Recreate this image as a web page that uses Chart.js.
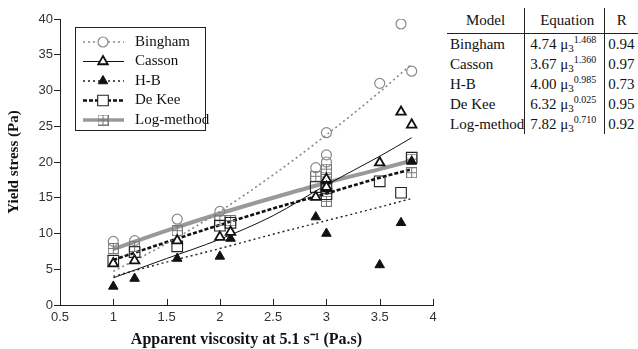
<!DOCTYPE html>
<html lang="en">
<head>
<meta charset="UTF-8" />
<title>Yield stress vs apparent viscosity</title>
<script src="https://cdn.jsdelivr.net/npm/chart.js"></script>
<style>
  body { margin: 0; background: #fff; }
  #wrap { position: relative; width: 638px; height: 349px; }
  #plotBox { position: absolute; left: 0; top: 0; width: 445px; height: 349px; }
  table.models {
    position: absolute; left: 447px; top: 8px;
    border-collapse: collapse;
    font-family: "Liberation Serif", "Times New Roman", serif;
    font-size: 15px; color: #111;
  }
  table.models th { font-weight: normal; height: 25px; border-bottom: 1px solid #222; padding: 0; }
  table.models td { height: 19.5px; padding: 0 0 0 3px; white-space: nowrap; }
  table.models .c1 { width: 74px; }
  table.models .c2 { width: 75px; border-left: 1px solid #222; padding-left: 5px; }
  table.models .c3 { width: 30px; border-left: 1px solid #222; }
  table.models th.c1, table.models th.c2, table.models th.c3 { text-align: center; }
  sup { font-size: 10px; vertical-align: 6px; }
  sub { font-size: 11px; vertical-align: -3px; }
</style>
</head>
<body>
<div id="wrap">
  <div id="plotBox"><canvas id="yieldChart"></canvas></div>
  <table class="models" id="modelTable">
    <tr><th class="c1">Model</th><th class="c2">Equation</th><th class="c3">R</th></tr>
  </table>
</div>

<script>
  // measured points (x = apparent viscosity, y = yield stress)
  const binghamX = [1, 1.2, 1.6, 2, 2.9, 3, 3, 3, 3.5, 3.7, 3.8];
  const binghamY = [8.9, 9.0, 12.0, 13.1, 19.2, 24.1, 21.0, 20.0, 31.0, 39.3, 32.7];
  const cassonX = [1, 1.2, 1.6, 2, 2.1, 2.9, 3, 3, 3.5, 3.7, 3.8];
  const cassonY = [5.8, 6.2, 9.0, 9.5, 10.2, 15.1, 17.6, 16.5, 19.9, 27.0, 25.2];
  const hbX = [1, 1.2, 1.6, 2, 2.1, 2.9, 3, 3, 3, 3.5, 3.7, 3.8];
  const hbY = [2.6, 3.7, 6.5, 6.8, 9.3, 12.3, 10.0, 16.2, 17.3, 5.6, 11.5, 20.1];
  const deKeeX = [1, 1.2, 1.6, 2, 2.1, 2.9, 3, 3, 3.5, 3.7, 3.8];
  const deKeeY = [6.2, 7.4, 8.2, 11.1, 11.5, 16.5, 15.5, 16.3, 17.3, 15.7, 20.6];
  const logX = [1, 1.2, 1.6, 2, 2.1, 2.9, 3, 3, 3, 3.8, 3.8];
  const logY = [7.9, 8.2, 10.4, 11.8, 11.8, 18.0, 19.0, 17.9, 14.5, 18.5, 20.4];

  // fitted curves
  const fitX = [1, 1.5, 2, 2.5, 3, 3.5, 3.8];
  const binghamFit = [4.7, 8.6, 13.1, 18.2, 23.8, 29.8, 33.7];
  const cassonFit = [3.8, 6.5, 9.2, 12.5, 16.8, 20.8, 23.4];
  const hbFit = [4.0, 6.0, 7.9, 9.9, 11.8, 13.7, 14.9];
  const deKeeFit = [6.3, 8.8, 11.2, 13.5, 15.6, 17.8, 19.0];
  const logFit = [7.8, 10.4, 12.8, 15.0, 17.1, 19.0, 20.2];

  const xTicks = [0.5, 1, 1.5, 2, 2.5, 3, 3.5, 4];
  const yTicks = [0, 5, 10, 15, 20, 25, 30, 35, 40];

  const modelNames = ["Bingham", "Casson", "H-B", "De Kee", "Log-method"];
  const eqCoef = ["4.74", "3.67", "4.00", "6.32", "7.82"];
  const eqPower = ["1.468", "1.360", "0.985", "0.025", "0.710"];
  const rValues = ["0.94", "0.97", "0.73", "0.95", "0.92"];

  // table on the right
  const table = document.getElementById("modelTable");
  modelNames.forEach((name, i) => {
    const tr = document.createElement("tr");
    tr.innerHTML = `<td class="c1">${name}</td>` +
      `<td class="c2">${eqCoef[i]} \u03bc<sub>3</sub><sup>${eqPower[i]}</sup></td>` +
      `<td class="c3">${rValues[i]}</td>`;
    table.appendChild(tr);
  });

  const pts = (xs, ys) => xs.map((x, i) => ({ x, y: ys[i] }));

  // square with a cross through it, for the log-method points
  function crossSquare(color) {
    const c = document.createElement("canvas");
    c.width = 11; c.height = 11;
    const g = c.getContext("2d");
    g.strokeStyle = color;
    g.lineWidth = 1;
    g.strokeRect(0.5, 0.5, 10, 10);
    g.beginPath();
    g.moveTo(5.5, 0.5); g.lineTo(5.5, 10.5);
    g.moveTo(0.5, 5.5); g.lineTo(10.5, 5.5);
    g.stroke();
    return c;
  }
  const logMarker = crossSquare("#777");

  const pointSets = [
    { label: "Bingham", data: pts(binghamX, binghamY), pointStyle: "circle", pointRadius: 5,
      borderColor: "#888", backgroundColor: "rgba(0,0,0,0)", borderWidth: 1.2 },
    { label: "Casson", data: pts(cassonX, cassonY), pointStyle: "triangle", pointRadius: 5.5,
      borderColor: "#111", backgroundColor: "#fff", borderWidth: 1.8 },
    { label: "H-B", data: pts(hbX, hbY), pointStyle: "triangle", pointRadius: 5.5,
      borderColor: "#111", backgroundColor: "#111", borderWidth: 1 },
    { label: "De Kee", data: pts(deKeeX, deKeeY), pointStyle: "rect", pointRadius: 7.5,
      borderColor: "#222", backgroundColor: "rgba(0,0,0,0)", borderWidth: 1.1 },
    { label: "Log-method", data: pts(logX, logY), pointStyle: logMarker, pointRadius: 5,
      borderColor: "#777", backgroundColor: "#777", borderWidth: 1 }
  ];

  const fitSets = [
    { data: pts(fitX, binghamFit), borderColor: "#888", borderWidth: 1.6, borderDash: [2, 3] },
    { data: pts(fitX, cassonFit), borderColor: "#111", borderWidth: 1, borderDash: [] },
    { data: pts(fitX, hbFit), borderColor: "#222", borderWidth: 1.4, borderDash: [2, 3] },
    { data: pts(fitX, deKeeFit), borderColor: "#111", borderWidth: 2.6, borderDash: [4, 2] },
    { data: pts(fitX, logFit), borderColor: "#999", borderWidth: 4, borderDash: [] }
  ];

  const datasets = [];
  pointSets.forEach(p => datasets.push(Object.assign({ showLine: false, pointHoverRadius: p.pointRadius }, p)));
  fitSets.forEach((f, i) => datasets.push(Object.assign({
    label: modelNames[i] + " fit", showLine: true, pointRadius: 0, tension: 0.4,
    cubicInterpolationMode: "monotone", fill: false
  }, f)));

  // x ticks in the original point up into the plot
  const innerXTicks = {
    id: "innerXTicks",
    afterDraw(chart) {
      const ctx = chart.ctx, xs = chart.scales.x, bottom = chart.chartArea.bottom;
      ctx.save();
      ctx.strokeStyle = "#222";
      ctx.lineWidth = 1;
      ctx.beginPath();
      xTicks.forEach(v => {
        const px = Math.round(xs.getPixelForValue(v)) + 0.5;
        ctx.moveTo(px, bottom);
        ctx.lineTo(px, bottom - 6);
      });
      ctx.stroke();
      ctx.restore();
    }
  };

  // legend box drawn inside the plot, top-left
  const insideLegend = {
    id: "insideLegend",
    afterDraw(chart) {
      const ctx = chart.ctx;
      const a = chart.chartArea;
      const left = a.left + 15, top = a.top + 8, w = 130, h = 103;
      ctx.save();
      ctx.fillStyle = "#fff";
      ctx.fillRect(left, top, w, h);
      ctx.strokeStyle = "#222";
      ctx.lineWidth = 1;
      ctx.strokeRect(left + 0.5, top + 0.5, w, h);
      modelNames.forEach((name, i) => {
        const y = top + 15 + i * 19.5;
        const f = fitSets[i], p = pointSets[i];
        ctx.beginPath();
        ctx.setLineDash(f.borderDash);
        ctx.strokeStyle = f.borderColor;
        ctx.lineWidth = Math.min(f.borderWidth, 3.5);
        ctx.moveTo(left + 8, y);
        ctx.lineTo(left + 49, y);
        ctx.stroke();
        ctx.setLineDash([]);
        ctx.fillStyle = p.backgroundColor === "rgba(0,0,0,0)" ? "#fff" : p.backgroundColor;
        ctx.strokeStyle = p.borderColor;
        ctx.lineWidth = p.borderWidth;
        Chart.helpers.drawPoint(ctx, {
          pointStyle: p.pointStyle, radius: p.pointRadius, rotation: 0, borderWidth: p.borderWidth
        }, left + 28, y);
        ctx.fillStyle = "#111";
        ctx.font = "15px 'Liberation Serif', 'Times New Roman', serif";
        ctx.textBaseline = "middle";
        ctx.fillText(name, left + 60, y);
      });
      ctx.restore();
    }
  };

  const axisTicks = { color: "#333", font: { family: "'Liberation Sans', Arial, sans-serif", size: 13 } };
  const titleFont = { family: "'Liberation Serif', 'Times New Roman', serif", size: 15, weight: "bold" };

  new Chart(document.getElementById("yieldChart"), {
    type: "scatter",
    data: { datasets },
    options: {
      responsive: true,
      maintainAspectRatio: false,
      animation: false,
      layout: { padding: { top: 19, right: 12, left: 0, bottom: 0 } },
      plugins: { legend: { display: false }, tooltip: { enabled: false } },
      scales: {
        x: {
          type: "linear", min: 0.5, max: 4,
          afterBuildTicks: s => { s.ticks = xTicks.map(v => ({ value: v })); },
          afterFit: s => { s.height = 44; },
          grid: { display: true, drawOnChartArea: false, drawTicks: false, tickLength: 0, color: "#222" },
          border: { color: "#222", width: 1 },
          ticks: Object.assign({ padding: 5, maxRotation: 0, callback: v => String(v) }, axisTicks),
          title: { display: true, text: "Apparent viscosity at 5.1 s\u207b\u00b9 (Pa.s)", color: "#111",
            font: Object.assign({}, titleFont, { size: 16 }), padding: { top: 0, bottom: 0 } }
        },
        y: {
          type: "linear", min: 0, max: 40,
          afterBuildTicks: s => { s.ticks = yTicks.map(v => ({ value: v })); },
          afterFit: s => { s.width = 60; },
          grid: { display: true, drawOnChartArea: false, tickLength: 6, color: "#222" },
          border: { color: "#222", width: 1 },
          ticks: Object.assign({ padding: 1, callback: v => String(v) }, axisTicks),
          title: { display: true, text: "Yield stress (Pa)", color: "#111", font: titleFont, padding: { top: 5, bottom: 2 } }
        }
      }
    },
    plugins: [innerXTicks, insideLegend]
  });
</script>
</body>
</html>
